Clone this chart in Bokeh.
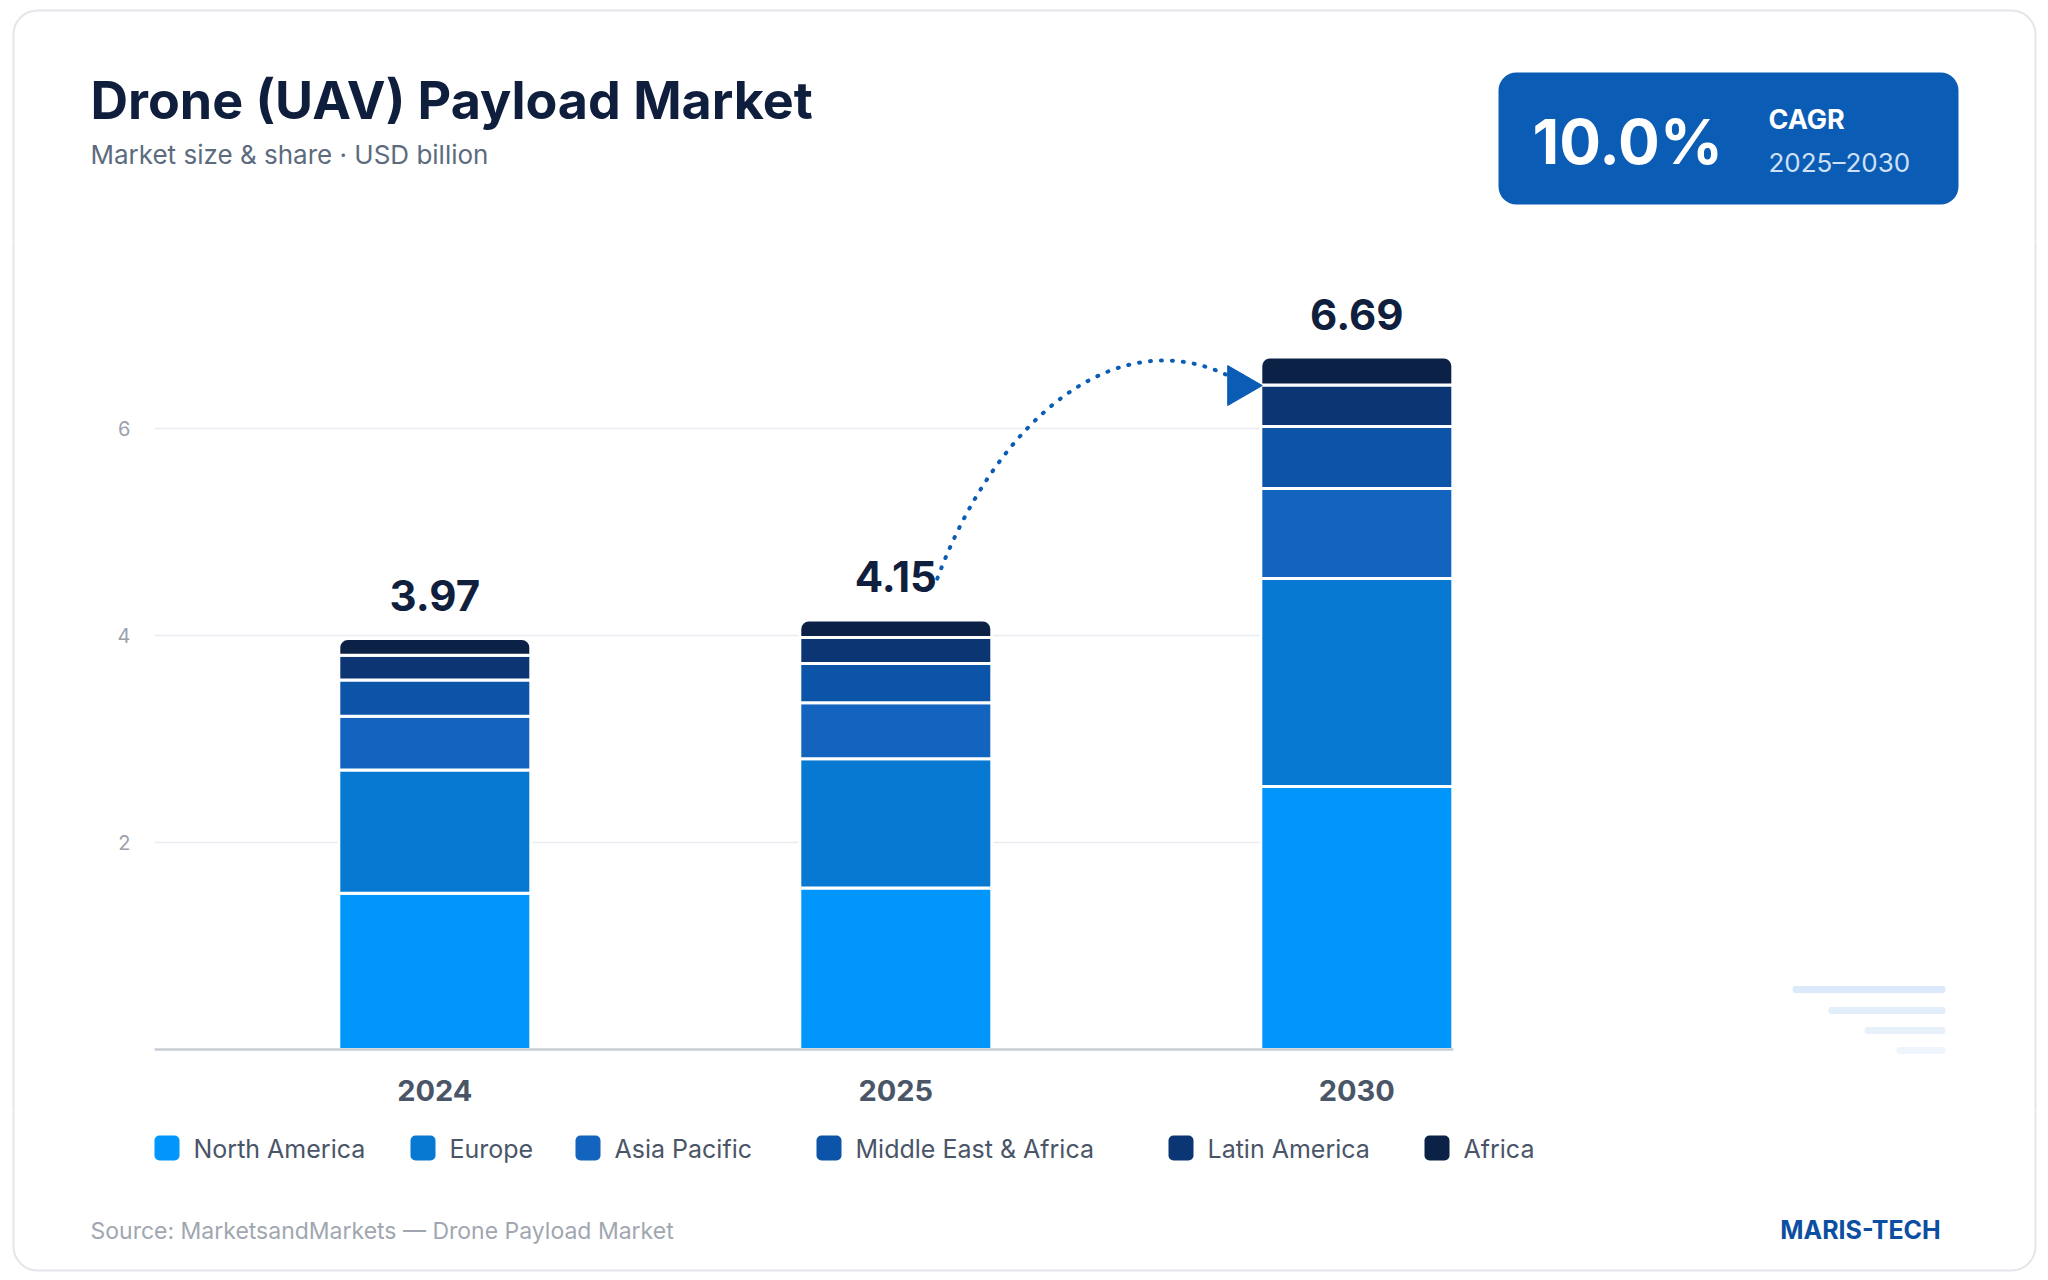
import math

from bokeh.plotting import figure
from bokeh.layouts import column, row
from bokeh.models import ColumnDataSource, Range1d, FixedTicker
from bokeh.core.properties import value
from bokeh.embed import file_html
from bokeh.resources import INLINE

# ---- data (USD billion) ----
years = ["2024", "2025", "2030"]
regions = ["North America", "Europe", "Asia Pacific",
           "Middle East & Africa", "Latin America", "Africa"]
north_america = [1.51, 1.56, 2.54]
europe = [1.19, 1.25, 2.01]
asia_pacific = [0.52, 0.54, 0.87]
middle_east_africa = [0.35, 0.38, 0.60]
latin_america = [0.24, 0.25, 0.40]
africa = [0.16, 0.17, 0.27]
y_ticks = [2, 4, 6]
cagr_value = "10.0%"
cagr_label = "CAGR"
cagr_period = "2025\u20132030"

series = [north_america, europe, asia_pacific, middle_east_africa, latin_america, africa]
colors = ["#0096fb", "#0879d3", "#1364be", "#0b54a7", "#0b3673", "#0b2246"]

FONT = "Inter"
W, H = 2048, 1280

# page bands (canvas pixels, y from top)
HEAD_B = 240          # header band bottom
MID_B = 1110          # chart band bottom
LEFT_R = 100          # left strip right edge
RIGHT_L = 1560        # right strip left edge

# plot frame placement on the canvas
FL, FR, FT, FB = 154, 1453, 240, 1049
PX_PER_BAR = 461.0
PX_PER_UNIT = 103.5


def deco_fig(X0, Y0, X1, Y1):
    """A figure whose frame fills its whole area, in canvas pixels (y up)."""
    f = figure(width=X1 - X0, height=Y1 - Y0, output_backend="svg",
               toolbar_location=None, x_axis_location=None, y_axis_location=None,
               x_range=Range1d(X0, X1), y_range=Range1d(H - Y1, H - Y0),
               min_border=0)
    f.grid.visible = False
    f.outline_line_color = None
    f.background_fill_color = "white"
    f.border_fill_color = "white"
    # rounded card outline (each band shows its own part of it)
    f.quad(left=[13], right=[2035], top=[H - 10], bottom=[H - 1270],
           fill_alpha=0, line_color="#e3e6ea", line_width=2, border_radius=24)
    return f


def put_text(f, X, Y, text, size, color, bold=False, align="left"):
    f.text(x=[X], y=[H - Y], text=[text], text_font=value(FONT),
           text_font_size=f"{size}px", text_font_style="bold" if bold else "normal",
           text_color=color, text_align=align, text_baseline="middle")


def put_box(f, X0, Y0, X1, Y1, color, radius):
    f.quad(left=[X0], right=[X1], top=[H - Y0], bottom=[H - Y1],
           fill_color=color, line_color=None, border_radius=radius)


# ---------------- header ----------------
head = deco_fig(0, 0, W, HEAD_B)
put_text(head, 90, 100, "Drone (UAV) Payload Market", 52, "#0e1e3c", bold=True)
put_text(head, 90, 154, "Market size & share \u00b7 USD billion", 26, "#5c6b7e")
put_box(head, 1498, 72, 1958, 204, "#0b5cb5", 18)
put_text(head, 1532, 141, cagr_value, 62, "white", bold=True)
put_text(head, 1768, 119, cagr_label, 27, "white", bold=True)
put_text(head, 1768, 162, cagr_period, 26, "#cfe1f7")

# ---------------- side strips ----------------
left = deco_fig(0, HEAD_B, LEFT_R, MID_B)
right = deco_fig(RIGHT_L, HEAD_B, W, MID_B)
for lx, ly, col in [(1792, 989, "#dbeafa"), (1828, 1010, "#e1edf9"),
                    (1864, 1030, "#e8f1fa"), (1896, 1050, "#eff5fc")]:
    put_box(right, lx, ly - 3.5, 1945, ly + 3.5, col, 3)

# ---------------- stacked bar chart ----------------
xs = list(range(len(years)))
totals = [round(sum(v), 2) for v in zip(*series)]

data = {"x": xs}
for name, vals in zip(regions, series):
    data[name] = vals
source = ColumnDataSource(data)

x_start = -(434.3 - FL) / PX_PER_BAR
x_end = x_start + (FR - FL) / PX_PER_BAR
y_end = (FB - FT) / PX_PER_UNIT

p = figure(width=RIGHT_L - LEFT_R, height=MID_B - HEAD_B, output_backend="svg",
           toolbar_location=None,
           x_range=Range1d(x_start, x_end), y_range=Range1d(0, y_end),
           min_border=0, min_border_left=FL - LEFT_R, min_border_right=RIGHT_L - FR,
           min_border_top=FT - HEAD_B, min_border_bottom=MID_B - FB)
p.background_fill_color = "white"
p.border_fill_color = "white"
p.outline_line_color = None

p.xaxis.ticker = FixedTicker(ticks=xs)
p.xaxis.major_label_overrides = {i: y for i, y in zip(xs, years)}
p.xaxis.axis_line_color = "#c9ced6"
p.xaxis.axis_line_width = 2.5
p.xaxis.major_tick_line_color = None
p.xaxis.minor_tick_line_color = None
p.xaxis.major_label_standoff = 24
p.xaxis.major_label_text_font = FONT
p.xaxis.major_label_text_font_size = "29px"
p.xaxis.major_label_text_font_style = "bold"
p.xaxis.major_label_text_color = "#4a5568"

p.yaxis.ticker = FixedTicker(ticks=y_ticks)
p.yaxis.axis_line_color = None
p.yaxis.major_tick_line_color = None
p.yaxis.minor_tick_line_color = None
p.yaxis.major_label_standoff = 18
p.yaxis.major_label_text_font = FONT
p.yaxis.major_label_text_font_size = "20px"
p.yaxis.major_label_text_color = "#9aa1ab"

p.xgrid.grid_line_color = None
p.ygrid.grid_line_color = "#e8ebef"
p.ygrid.grid_line_width = 1.5

BAR_W = 192 / PX_PER_BAR
rs = p.vbar_stack(regions, x="x", width=BAR_W, source=source, color=colors,
                  line_color="white", line_width=3)
rs[-1].glyph.border_radius = (9, 9, 0, 0)

# totals above bars
p.text(x=xs, y=totals, text=[f"{t:.2f}" for t in totals],
       text_font=value(FONT), text_font_size="42px", text_font_style="bold",
       text_color="#0f1f3d", text_align="center", text_baseline="middle",
       y_offset=-43)

# growth arrow 2025 -> 2030
x0, x1 = xs[1], xs[2]
t0, t1 = totals[1], totals[2]
p.bezier(x0=[x0 + 0.09], y0=[t0 + 0.40],
         cx0=[x0 + 0.22], cy0=[t0 + 1.95],
         cx1=[x1 - 0.52], cy1=[t1 + 0.36],
         x1=[x1 - 0.274], y1=[t1 - 0.19],
         line_color="#0b5cb5", line_width=4, line_dash="1 10", line_cap="round")
p.scatter(x=[x1 - 0.255], y=[t1 - 0.275], marker="triangle", size=40,
          angle=-math.pi / 2, fill_color="#0b5cb5", line_color="#0b5cb5")

# ---------------- footer ----------------
foot = deco_fig(0, MID_B, W, H)
legend_x = [154, 410, 575, 816, 1168, 1424]
for lx, name, col in zip(legend_x, regions, colors):
    put_box(foot, lx, 1135, lx + 25, 1160, col, 5)
    put_text(foot, lx + 39, 1148, name, 25, "#4a5568")
put_text(foot, 90, 1230, "Source: MarketsandMarkets \u2014 Drone Payload Market", 23, "#a0a7b1")
put_text(foot, 1860, 1229, "MARIS-TECH", 25, "#0b4ea2", bold=True, align="center")

# side strips are wrapped on their own so their frames keep their full height
page = column(head,
              row(column(left, spacing=0), p, column(right, spacing=0), spacing=0),
              foot, spacing=0)
open("out.html", "w").write(file_html(page, INLINE))
